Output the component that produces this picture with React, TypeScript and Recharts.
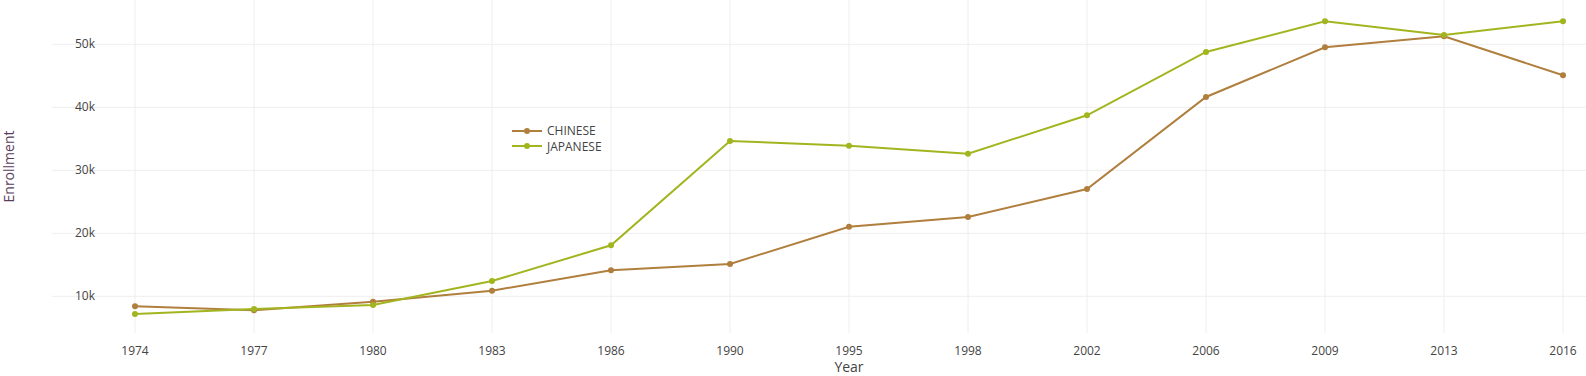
import { LineChart, Line, XAxis, YAxis, CartesianGrid } from "recharts";

const years = ["1974", "1977", "1980", "1983", "1986", "1990", "1995", "1998", "2002", "2006", "2009", "2013", "2016"];
const chinese = [8410, 7780, 9140, 10890, 14130, 15130, 21050, 22590, 27030, 41640, 49520, 51270, 45080];
const japanese = [7190, 7980, 8620, 12430, 18090, 34650, 33900, 32640, 38730, 48780, 53650, 51480, 53650];
const yTicks = [10000, 20000, 30000, 40000, 50000];

const data = years.map((y, i) => ({ year: y, CHINESE: chinese[i], JAPANESE: japanese[i] }));

const BROWN = "#b07f3d";
const GREEN = "#a2b51f";
const FONT = "'Open Sans', sans-serif";
const PAD_L = 83;
const PAD_R = 23;

const series = [
  { key: "CHINESE", color: BROWN },
  { key: "JAPANESE", color: GREEN },
];

// skip the grid lines that sit on the plot's own edges
function hLine(p: any) {
  if (Math.abs(p.y1 - (p.y + p.height)) < 1 || Math.abs(p.y1 - p.y) < 1) return <g />;
  return <line x1={p.x1} y1={p.y1} x2={p.x2} y2={p.y2} stroke="#eeeeee" strokeWidth={1} />;
}

function vLine(p: any) {
  if (Math.abs(p.x1 - p.x) < 1 || Math.abs(p.x1 - (p.x + p.width)) < 1) return <g />;
  return <line x1={p.x1} y1={p.y1} x2={p.x2} y2={p.y2} stroke="#eeeeee" strokeWidth={1} />;
}

function XTick(props: any) {
  const { x, y, payload } = props;
  return (
    <text x={x} y={y + 14} textAnchor="middle" fontFamily={FONT} fontSize={12} fill="#444">
      {payload.value}
    </text>
  );
}

function YTick(props: any) {
  const { x, y, payload } = props;
  return (
    <text x={x + 51} y={y + 4} textAnchor="end" fontFamily={FONT} fontSize={12} fill="#444">
      {payload.value / 1000}k
    </text>
  );
}

function LegendBox() {
  return (
    <div style={{ position: "absolute", left: 511, top: 123, fontFamily: FONT, fontSize: 12, color: "#444" }}>
      {series.map((s) => (
        <div key={s.key} style={{ display: "flex", alignItems: "center", height: 15.6 }}>
          <svg width={36} height={10}>
            <line x1={1} y1={5} x2={31} y2={5} stroke={s.color} strokeWidth={2} />
            <circle cx={16} cy={5} r={3} fill={s.color} />
          </svg>
          <span>{s.key}</span>
        </div>
      ))}
    </div>
  );
}

export default function App() {
  return (
    <div style={{ position: "absolute", left: 0, top: 0, width: 1586, height: 376, background: "#fff" }}>
      <LineChart width={1586} height={376} data={data} margin={{ top: 0, right: 0, bottom: 0, left: 0 }}>
        <CartesianGrid stroke="#eeeeee" strokeWidth={1} horizontal={hLine} vertical={vLine} />
        <XAxis
          dataKey="year"
          height={43}
          axisLine={false}
          tickLine={false}
          padding={{ left: PAD_L, right: PAD_R }}
          tick={<XTick />}
          interval={0}
          label={{
            content: (p: any) => {
              const vb = p.viewBox;
              const cx = vb.x + PAD_L + (vb.width - PAD_L - PAD_R) / 2;
              return (
                <text x={cx} y={vb.y + 39} textAnchor="middle" fontFamily={FONT} fontSize={14} fill="#444">
                  Year
                </text>
              );
            },
          }}
        />
        <YAxis
          width={52}
          domain={[4175, 57030]}
          ticks={yTicks}
          allowDataOverflow
          axisLine={false}
          tickLine={false}
          tick={<YTick />}
          label={{
            content: (p: any) => {
              const vb = p.viewBox;
              const cy = vb.y + vb.height / 2;
              return (
                <text
                  x={14}
                  y={cy}
                  transform={`rotate(-90 14 ${cy})`}
                  textAnchor="middle"
                  fontFamily={FONT}
                  fontSize={14}
                  fill="#5a3d5c"
                >
                  Enrollment
                </text>
              );
            },
          }}
        />
        {series.map((s) => (
          <Line
            key={s.key}
            dataKey={s.key}
            type="linear"
            stroke={s.color}
            strokeWidth={2}
            dot={{ r: 3, fill: s.color, stroke: s.color, strokeWidth: 0 }}
            activeDot={false}
            isAnimationActive={false}
          />
        ))}
      </LineChart>
      <LegendBox />
    </div>
  );
}
